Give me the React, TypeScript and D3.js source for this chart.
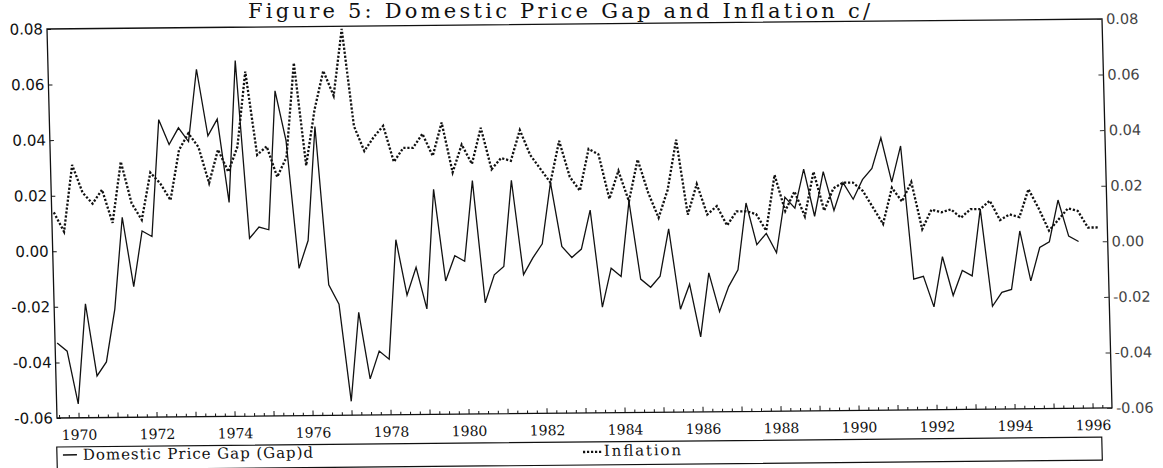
import * as React from "react";
import * as d3 from "d3";

const title = "Figure 5:  Domestic Price Gap and Inflation c/";

// quarterly data, first observation 1969 Q3
const firstYear = 1969;
const firstQuarter = 3;

const gap = [
    -0.033, -0.036, -0.055, -0.019, -0.045, -0.040, -0.021, 0.012, -0.013, 0.007,
    0.005, 0.047, 0.038, 0.044, 0.039, 0.065, 0.041, 0.047, 0.017, 0.068,
    0.004, 0.008, 0.007, 0.057, 0.039, -0.007, 0.003, 0.044, -0.013, -0.020,
    -0.055, -0.023, -0.047, -0.037, -0.040, 0.003, -0.017, -0.007, -0.022, 0.021,
    -0.012, -0.003, -0.005, 0.024, -0.020, -0.010, -0.007, 0.024, -0.010, -0.004,
    0.001, 0.023, 0.000, -0.004, -0.001, 0.013, -0.022, -0.008, -0.011, 0.016,
    -0.012, -0.015, -0.011, 0.006, -0.023, -0.014, -0.033, -0.010, -0.024, -0.015,
    -0.009, 0.015, 0.000, 0.004, -0.003, 0.017, 0.013, 0.027, 0.010, 0.026,
    0.012, 0.022, 0.016, 0.023, 0.027, 0.038, 0.022, 0.035, -0.013, -0.012,
    -0.023, -0.005, -0.019, -0.010, -0.012, 0.012, -0.023, -0.018, -0.017, 0.004,
    -0.014, -0.002, 0.000, 0.015, 0.002, 0.000,
];

const inflation = [
    0.014, 0.007, 0.031, 0.021, 0.017, 0.022, 0.010, 0.032, 0.017, 0.011,
    0.028, 0.024, 0.018, 0.036, 0.042, 0.037, 0.024, 0.036, 0.028, 0.037,
    0.064, 0.034, 0.037, 0.026, 0.033, 0.067, 0.030, 0.050, 0.064, 0.055,
    0.079, 0.044, 0.035, 0.040, 0.044, 0.031, 0.036, 0.036, 0.041, 0.033,
    0.045, 0.027, 0.037, 0.030, 0.043, 0.028, 0.032, 0.031, 0.042, 0.033,
    0.028, 0.023, 0.038, 0.025, 0.020, 0.035, 0.033, 0.017, 0.027, 0.016,
    0.031, 0.019, 0.010, 0.020, 0.038, 0.011, 0.022, 0.011, 0.014, 0.007,
    0.012, 0.012, 0.011, 0.005, 0.025, 0.012, 0.019, 0.010, 0.026, 0.012,
    0.020, 0.022, 0.022, 0.019, 0.013, 0.007, 0.020, 0.015, 0.022, 0.005,
    0.012, 0.011, 0.012, 0.009, 0.012, 0.012, 0.015, 0.008, 0.010, 0.009,
    0.019, 0.012, 0.004, 0.008, 0.012, 0.011, 0.005, 0.005,
];

const yearLabels = [1970, 1972, 1974, 1976, 1978, 1980, 1982, 1984, 1986, 1988, 1990, 1992, 1994, 1996];
const leftTicks = [-0.06, -0.04, -0.02, 0, 0.02, 0.04, 0.06, 0.08];
const rightTicks = [-0.06, -0.04, -0.02, 0, 0.02, 0.04, 0.06, 0.08];

const legendGap = "Domestic Price Gap (Gap)d";
const legendInflation = "Inflation";

const serifFont = "'DejaVu Serif', 'Liberation Serif', serif";
const sansFont = "'DejaVu Sans', sans-serif";

function quarterTime(i: number) {
    return firstYear + (firstQuarter - 1) / 4 + i / 4;
}

export default function App() {
    const svgRef = React.useRef<SVGSVGElement>(null);

    React.useEffect(() => {
        const svg = d3.select(svgRef.current);
        svg.selectAll("*").remove();

        const width = 1055;
        const height = 389;

        // title sits above the frame, kept level so it stays inside the picture
        svg.append("text")
            .attr("x", 248)
            .attr("y", 18)
            .attr("font-family", serifFont)
            .attr("font-size", 21)
            .attr("textLength", 622)
            .attr("lengthAdjust", "spacing")
            .attr("fill", "#111")
            .text(title);

        // the scan is slightly rotated/sheared, mimic it with one affine transform
        const g = svg.append("g")
            .attr("transform", "matrix(1,-0.0095,0.0257,1,47,29)");

        const x = d3.scaleLinear().domain([1969.446, 1996.497]).range([0, width]);
        const y = d3.scaleLinear().domain([-0.06, 0.08]).range([height, 0]);
        const yRight = d3.scaleLinear().domain([-0.06, 0.08]).range([height, 0]);

        // frame
        g.append("rect")
            .attr("x", 0).attr("y", 0)
            .attr("width", width).attr("height", height)
            .attr("fill", "none")
            .attr("stroke", "#111")
            .attr("stroke-width", 1.3);

        const fmt = (d: d3.NumberValue) => (+d).toFixed(2);

        const left = g.append("g")
            .call(d3.axisLeft(y).tickValues(leftTicks).tickFormat(fmt).tickSizeInner(-4).tickSizeOuter(0).tickPadding(4));
        left.select(".domain").remove();
        left.selectAll("text").attr("font-family", sansFont).attr("font-size", 15).attr("fill", "#111");
        left.selectAll("line").attr("stroke", "#111");

        const right = g.append("g")
            .attr("transform", `translate(${width},0)`)
            .call(d3.axisRight(yRight).tickValues(rightTicks).tickFormat(fmt).tickSizeInner(-5).tickSizeOuter(0).tickPadding(4));
        right.select(".domain").remove();
        right.selectAll("text").attr("font-family", sansFont).attr("font-size", 14.5).attr("fill", "#444");
        right.selectAll("line").attr("stroke", "#333");

        // quarterly minor ticks on the time axis
        const quarters = d3.range(1969.5, 1996.5, 0.25).filter(t => t % 1 !== 0);
        const minor = g.append("g")
            .attr("transform", `translate(0,${height})`)
            .call(d3.axisBottom(x).tickValues(quarters).tickFormat(() => "").tickSizeInner(-3).tickSizeOuter(0));
        minor.select(".domain").remove();
        minor.selectAll("line").attr("stroke", "#111");

        const years = d3.range(1970, 1997);
        const bottom = g.append("g")
            .attr("transform", `translate(0,${height})`)
            .call(d3.axisBottom(x).tickValues(years)
                .tickFormat(d => (yearLabels.includes(+d) ? String(d) : ""))
                .tickSizeInner(-5).tickSizeOuter(0).tickPadding(12));
        bottom.select(".domain").remove();
        bottom.selectAll("text").attr("font-family", serifFont).attr("font-size", 14).attr("fill", "#111");
        bottom.selectAll("line").attr("stroke", "#111");

        const gapLine = d3.line<number>()
            .x((d, i) => x(quarterTime(i)))
            .y(d => y(d));
        const inflationLine = d3.line<number>()
            .x((d, i) => x(quarterTime(i)))
            .y(d => yRight(d));

        g.append("path")
            .datum(gap)
            .attr("d", gapLine)
            .attr("fill", "none")
            .attr("stroke", "#111")
            .attr("stroke-width", 1.3)
            .attr("stroke-linejoin", "miter");

        g.append("path")
            .datum(inflation)
            .attr("d", inflationLine)
            .attr("fill", "none")
            .attr("stroke", "#111")
            .attr("stroke-width", 2.3)
            .attr("stroke-dasharray", "2.2,1.8");

        // legend box
        const legend = g.append("g").attr("transform", "translate(0,418)");
        legend.append("rect")
            .attr("x", -1).attr("y", 0)
            .attr("width", 1045).attr("height", 23)
            .attr("fill", "none")
            .attr("stroke", "#111")
            .attr("stroke-width", 1.2);
        legend.append("line")
            .attr("x1", 5).attr("x2", 19)
            .attr("y1", 8).attr("y2", 8)
            .attr("stroke", "#111").attr("stroke-width", 1.4);
        legend.append("text")
            .attr("x", 25).attr("y", 13)
            .attr("font-family", serifFont).attr("font-size", 15)
            .attr("textLength", 230).attr("lengthAdjust", "spacing")
            .attr("fill", "#111")
            .text(legendGap);
        legend.append("line")
            .attr("x1", 525).attr("x2", 545)
            .attr("y1", 10).attr("y2", 10)
            .attr("stroke", "#111").attr("stroke-width", 2.3)
            .attr("stroke-dasharray", "2.2,1.8");
        legend.append("text")
            .attr("x", 546).attr("y", 14)
            .attr("font-family", serifFont).attr("font-size", 15)
            .attr("textLength", 77).attr("lengthAdjust", "spacing")
            .attr("fill", "#111")
            .text(legendInflation);
    }, []);

    return (
        <div style={{ position: "absolute", left: 0, top: 0, background: "#fff" }}>
            <svg ref={svgRef} width={1163} height={468} />
        </div>
    );
}
